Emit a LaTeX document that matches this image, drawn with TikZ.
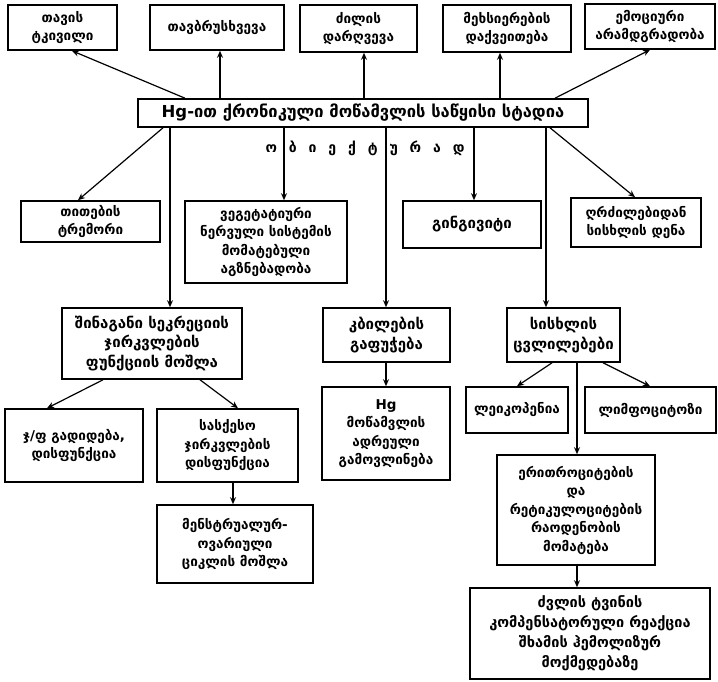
\documentclass[tikz,border=0pt]{standalone}
\usepackage{fontspec}
\setmainfont{DejaVu Sans}
\usetikzlibrary{arrows.meta}
\begin{document}
\begin{tikzpicture}[x=1pt,y=-1pt,
  box/.style={draw, line width=1.6pt, align=center, inner sep=2pt,
    font=\bfseries\fontsize{13.5}{18.5}\selectfont},
  big/.style={font=\bfseries\fontsize{15}{19.5}\selectfont},
  arr/.style={line width=1.2pt, -{Stealth[length=7pt,width=6pt]}},
  ln/.style={line width=1.2pt}]
\useasboundingbox (0,0) rectangle (718,682);

% symptom boxes along the top
\node[box, minimum width=109, minimum height=45] (b1) at (62.5,27.5) {თავის\\ტკივილი};
\node[box, minimum width=134, minimum height=45] (b2) at (217,27.5) {თავბრუსხვევა};
\node[box, minimum width=117, minimum height=47] (b3) at (358.5,28.5) {ძილის\\დარღვევა};
\node[box, minimum width=128, minimum height=47] (b4) at (507,28.5) {მეხსიერების\\დაქვეითება};
\node[box, minimum width=130, minimum height=45, inner sep=1pt] (b5) at (650,26.5) {ემოციური\\არამდგრადობა};

% central stage
\node[box, minimum width=450, minimum height=28, font=\bfseries\fontsize{16.5}{18}\selectfont] (c) at (363,113)
  {Hg-ით ქრონიკული მოწამვლის საწყისი სტადია};
\node[font=\bfseries\fontsize{14}{16}\selectfont] (obj) at (365,148)
  {ო\hspace{0.85em}ბ\hspace{0.85em}ი\hspace{0.85em}ე\hspace{0.85em}ქ\hspace{0.85em}ტ\hspace{0.85em}უ\hspace{0.85em}რ\hspace{0.85em}ა\hspace{0.85em}დ};

% objective signs
\node[box, minimum width=139, minimum height=41] (t1) at (90.5,221.5) {თითების\\ტრემორი};
\node[box, minimum width=162, minimum height=82] (t2) at (266,242) {ვეგეტატიური\\ნერვული სისტემის\\მომატებული\\აგზნებადობა};
\node[box, big, minimum width=138, minimum height=47] (t3) at (472,224.5) {გინგივიტი};
\node[box, minimum width=130, minimum height=49, inner sep=1pt] (t4) at (636,222.5) {ღრძილებიდან\\სისხლის დენა};

\node[box, big, minimum width=180, minimum height=71] (s1) at (152,343.5) {შინაგანი სეკრეციის\\ჯირკვლების\\ფუნქციის მოშლა};
\node[box, big, minimum width=127, minimum height=54] (s2) at (386.5,335) {კბილების\\გაფუჭება};
\node[box, big, minimum width=113, minimum height=54] (s3) at (563.5,335) {სისხლის\\ცვლილებები};

\node[box, minimum width=138, minimum height=73] (f1) at (74,445.5) {ჯ/ფ გადიდება,\\დისფუნქცია};
\node[box, minimum width=141, minimum height=73] (f2) at (227.5,445.5) {სასქესო\\ჯირკვლების\\დისფუნქცია};
\node[box, minimum width=156, minimum height=78] (f3) at (235,544) {მენსტრუალურ-\\ოვარიული\\ციკლის მოშლა};

\node[box, minimum width=128, minimum height=93] (h) at (386,433.5) {Hg\\მოწამვლის\\ადრეული\\გამოვლინება};

\node[box, minimum width=102, minimum height=46, inner sep=1pt] (l1) at (517,410) {ლეიკოპენია};
\node[box, minimum width=131, minimum height=46, inner sep=1pt] (l2) at (650.5,410) {ლიმფოციტოზი};
\node[box, minimum width=158, minimum height=110] (e) at (576,510) {ერითროციტების\\და\\რეტიკულოციტების\\რაოდენობის\\მომატება};
\node[box, minimum width=240, minimum height=91, font=\bfseries\fontsize{14.5}{20}\selectfont] (z) at (590,633.5) {ძვლის ტვინის\\კომპენსატორული რეაქცია\\შხამის ჰემოლიზურ\\მოქმედებაზე};

% x positions of the connector lines
\coordinate (x47) at (47,0);
\coordinate (x72) at (72,0);
\coordinate (x78) at (78,0);
\coordinate (x103) at (103,0);
\coordinate (x163) at (163,0);
\coordinate (x170) at (170,0);
\coordinate (x185) at (185,0);
\coordinate (x200) at (200,0);
\coordinate (x220) at (220,0);
\coordinate (x233) at (233,0);
\coordinate (x238) at (238,0);
\coordinate (x284) at (284,0);
\coordinate (x364) at (364,0);
\coordinate (x386) at (386,0);
\coordinate (x474) at (474,0);
\coordinate (x500) at (500,0);
\coordinate (x517) at (517,0);
\coordinate (x546) at (546,0);
\coordinate (x550) at (550,0);
\coordinate (x552) at (552,0);
\coordinate (x555) at (555,0);
\coordinate (x577) at (577,0);
\coordinate (x603) at (603,0);
\coordinate (x635) at (635,0);
\coordinate (x650) at (650,0);

% upward arrows
\draw[arr] (c.north -| x185) -- (b1.south -| x72);
\draw[arr] (c.north -| x220) -- (b2.south -| x220);
\draw[arr] (c.north -| x364) -- (b3.south -| x364);
\draw[arr] (c.north -| x500) -- (b4.south -| x500);
\draw[arr] (c.north -| x555) -- (b5.south -| x650);

% downward arrows
\draw[arr] (c.south -| x163) -- (t1.north -| x78);
\draw[arr] (c.south -| x170) -- (s1.north -| x170);
\draw[arr] (c.south -| x284) -- (t2.north -| x284);
\draw[arr] (c.south -| x386) -- (s2.north -| x386);
\draw[arr] (c.south -| x474) -- (t3.north -| x474);
\draw[arr] (c.south -| x546) -- (s3.north -| x546);
\draw[arr] (c.south -| x550) -- (t4.north -| x635);

\draw[arr] (s1.south -| x103) -- (f1.north -| x47);
\draw[arr] (s1.south -| x200) -- (f2.north -| x238);
\draw[arr] (f2.south -| x233) -- (f3.north -| x233);
\draw[arr] (s2.south -| x386) -- (h.north -| x386);
\draw[arr] (s3.south -| x552) -- (l1.north -| x517);
\draw[arr] (s3.south -| x603) -- (l2.north -| x650);
\draw[arr] (s3.south -| x577) -- (e.north -| x577);
\draw[arr] (e.south -| x577) -- (z.north -| x577);
\end{tikzpicture}
\end{document}
